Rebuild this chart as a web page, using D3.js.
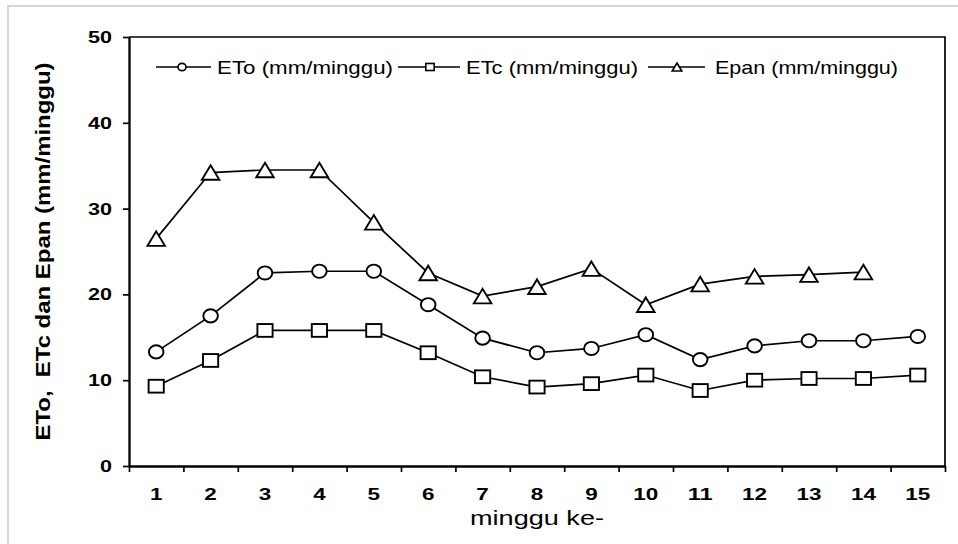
<!DOCTYPE html>
<html><head><meta charset="utf-8">
<script src="https://cdn.jsdelivr.net/npm/d3@7"></script>
<style>
body{margin:0;background:#fff}
svg{display:block}
text{font-family:"Liberation Sans",Arial,sans-serif;fill:#000}
</style>
</head><body>
<svg id="c" width="958" height="544"></svg>
<script>
// ---- data ----
const weeks = ["1","2","3","4","5","6","7","8","9","10","11","12","13","14","15"];
const eto  = [13.3, 17.5, 22.5, 22.7, 22.7, 18.8, 14.9, 13.2, 13.7, 15.3, 12.4, 14.0, 14.6, 14.6, 15.1];
const etc  = [9.3, 12.3, 15.8, 15.8, 15.8, 13.2, 10.4, 9.2, 9.6, 10.6, 8.8, 10.0, 10.2, 10.2, 10.6];
const epan = [26.5, 34.2, 34.5, 34.5, 28.4, 22.5, 19.8, 20.9, 23.0, 18.8, 21.2, 22.1, 22.3, 22.6, null];
const yTicks = [0, 10, 20, 30, 40, 50];
const seriesNames = ["ETo (mm/minggu)", "ETc (mm/minggu)", "Epan (mm/minggu)"];
const markerTypes = ["circle", "square", "triangle"];
const xTitle = "minggu ke-";
const yTitle = "ETo,  ETc dan Epan (mm/minggu)";

// ---- layout ----
const L = 129, T = 37, R = 945, B = 466;
const svg = d3.select("#c");

// outer light frame
svg.append("rect").attr("x", 8).attr("y", 6).attr("width", 980).attr("height", 600)
  .attr("fill", "none").attr("stroke", "#d6d6d6").attr("stroke-width", 2);

const x = d3.scaleBand().domain(weeks).range([L, R]);
const xEdge = d3.scaleLinear().domain([0, weeks.length]).range([L, R]);
const y = d3.scaleLinear().domain([0, 50]).range([B, T]);
const cx = w => x(w) + x.bandwidth() / 2;

// plot frame top/right
svg.append("path").attr("d", `M${L},${T}H${R}V${B}`)
  .attr("fill", "none").attr("stroke", "#000").attr("stroke-width", 1.7);

// y axis
const ya = svg.append("g").attr("transform", `translate(${L},0)`)
  .call(d3.axisLeft(y).tickValues(yTicks).tickSize(6).tickSizeOuter(0).tickPadding(11).tickFormat(d3.format("d")));
ya.select(".domain").attr("stroke-width", 2.3);
ya.selectAll(".tick line").attr("stroke-width", 1.7);
ya.selectAll("text").attr("font-size", 17).attr("font-weight", "bold")
  .attr("font-family", '"Liberation Sans",Arial,sans-serif')
  .attr("textLength", d => String(d).length * 12).attr("lengthAdjust", "spacingAndGlyphs");

// x axis: edge ticks
const xe = svg.append("g").attr("transform", `translate(0,${B})`)
  .call(d3.axisBottom(xEdge).tickValues(d3.range(weeks.length + 1)).tickSize(6).tickSizeOuter(0).tickFormat(""));
xe.select(".domain").attr("stroke-width", 2.3);
xe.selectAll(".tick line").attr("stroke-width", 1.7);

// x axis: category labels
const xa = svg.append("g").attr("transform", `translate(0,${B})`)
  .call(d3.axisBottom(x).tickSize(0).tickPadding(22));
xa.select(".domain").remove();
xa.selectAll("text").attr("font-size", 17).attr("font-weight", "bold")
  .attr("font-family", '"Liberation Sans",Arial,sans-serif')
  .attr("textLength", d => String(d).length * 12.5).attr("lengthAdjust", "spacingAndGlyphs");

// axis titles
svg.append("text").attr("x", (L + R) / 2).attr("y", 525).attr("text-anchor", "middle")
  .attr("font-size", 20).attr("textLength", 134).attr("lengthAdjust", "spacingAndGlyphs").text(xTitle);
svg.append("text").attr("transform", `translate(50,${(T + B) / 2}) rotate(-90)`)
  .attr("text-anchor", "middle").attr("font-size", 21).attr("font-weight", "bold")
  .style("white-space", "pre").attr("textLength", 378).attr("lengthAdjust", "spacingAndGlyphs").text(yTitle);

// markers
function drawMarker(g, type, px, py, s) {
  if (type === "circle") {
    g.append("ellipse").attr("cx", px).attr("cy", py).attr("rx", 7.3 * s).attr("ry", 6.6 * s);
  } else if (type === "square") {
    g.append("rect").attr("x", px - 7.6 * s).attr("y", py - 6.4 * s).attr("width", 15.2 * s).attr("height", 12.8 * s);
  } else {
    const w = 17.5 * s, h = 14.5 * s;
    g.append("path").attr("d", `M${px},${py - h / 2}L${px + w / 2},${py + h / 2}L${px - w / 2},${py + h / 2}Z`);
  }
}

const allSeries = [eto, etc, epan];
const line = d3.line().defined(d => d.v != null).x(d => cx(d.w)).y(d => y(d.v));
allSeries.forEach((vals, k) => {
  const pts = vals.map((v, i) => ({ w: weeks[i], v }));
  svg.append("path").datum(pts).attr("d", line)
    .attr("fill", "none").attr("stroke", "#000").attr("stroke-width", 1.7);
  const g = svg.append("g").attr("fill", "#fff").attr("stroke", "#000").attr("stroke-width", 1.9);
  pts.filter(d => d.v != null).forEach(d => drawMarker(g, markerTypes[k], cx(d.w), y(d.v), 1));
});

// legend
const legY = 67;
const legItems = [
  { x0: 156, x1: 211, m: 182, tx: 217, tl: 176 },
  { x0: 398, x1: 460, m: 430, tx: 466, tl: 172 },
  { x0: 648, x1: 705, m: 677, tx: 715, tl: 183 }
];
legItems.forEach((it, k) => {
  const g = svg.append("g");
  g.append("line").attr("x1", it.x0).attr("x2", it.x1).attr("y1", legY).attr("y2", legY)
    .attr("stroke", "#000").attr("stroke-width", 1.6);
  const mg = g.append("g").attr("fill", "#fff").attr("stroke", "#000").attr("stroke-width", 1.6);
  drawMarker(mg, markerTypes[k], it.m, legY, 0.55);
  g.append("text").attr("x", it.tx).attr("y", legY + 7.3).attr("font-size", 19)
    .attr("textLength", it.tl).attr("lengthAdjust", "spacingAndGlyphs").text(seriesNames[k]);
});
</script>
</body></html>
